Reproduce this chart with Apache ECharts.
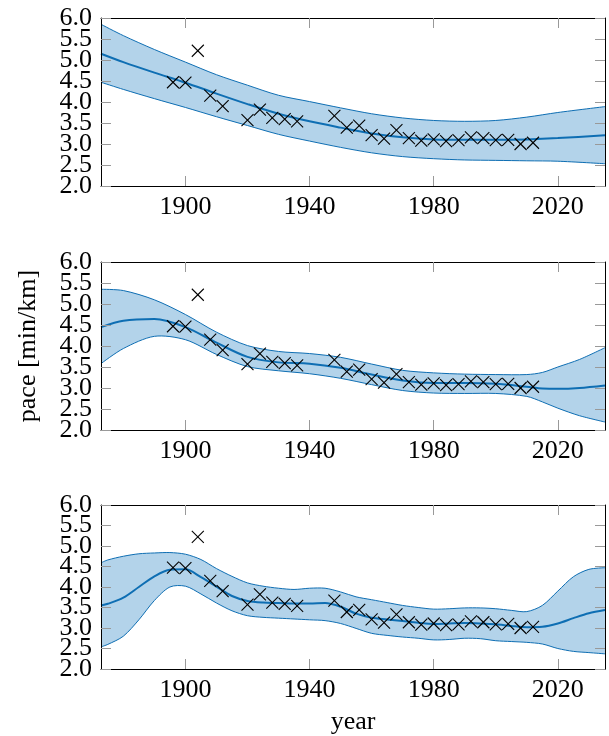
<!DOCTYPE html>
<html><head><meta charset="utf-8">
<script src="https://cdn.jsdelivr.net/npm/echarts@6/dist/echarts.min.js"></script>
<style>html,body{margin:0;padding:0;background:#fff}#c{width:609px;height:736px}</style>
</head><body><div id="c"></div>
<script>
// Observed data (Olympic marathon pace, min/km)
const years = [1896,1900,1904,1908,1912,1920,1924,1928,1932,1936,1948,1952,1956,1960,1964,1968,1972,1976,1980,1984,1988,1992,1996,2000,2004,2008,2012];
const pace  = [4.47,4.46,5.22,4.15,3.90,3.57,3.82,3.62,3.59,3.54,3.67,3.39,3.44,3.21,3.13,3.33,3.14,3.08,3.11,3.07,3.09,3.16,3.14,3.09,3.10,3.00,3.03];

// Panel 1 fit
const p1Years = [1872.8,1880,1890,1900,1910,1920,1930,1940,1950,1960,1970,1980,1990,2000,2010,2020,2035.2];
const p1Mean  = [5.15,4.95,4.70,4.46,4.20,3.95,3.72,3.54,3.39,3.25,3.16,3.11,3.10,3.10,3.11,3.14,3.21];
const p1Upper = [5.85,5.58,5.25,4.95,4.65,4.40,4.16,4.01,3.86,3.72,3.62,3.56,3.54,3.56,3.64,3.75,3.89];
const p1Lower = [4.47,4.30,4.08,3.87,3.65,3.44,3.23,3.07,2.92,2.79,2.70,2.65,2.62,2.61,2.60,2.59,2.53];

// Panel 2 fit
const p2Years = [1872.8,1880,1890,1900,1910,1920,1930,1940,1950,1960,1970,1980,1990,2000,2010,2015,2020,2027,2035.2];
const p2Mean  = [4.45,4.60,4.64,4.45,4.08,3.74,3.61,3.58,3.48,3.32,3.18,3.12,3.12,3.10,3.03,2.99,2.98,3.00,3.06];
const p2Upper = [5.35,5.32,5.10,4.75,4.33,4.01,3.87,3.82,3.73,3.57,3.42,3.36,3.33,3.32,3.32,3.37,3.50,3.68,3.96];
const p2Lower = [3.58,3.94,4.23,4.15,3.80,3.51,3.41,3.34,3.23,3.08,2.94,2.88,2.87,2.87,2.80,2.67,2.52,2.34,2.19];

// Panel 3 fit
const p3Years = [1872.8,1875,1880,1885,1890,1895,1900,1905,1910,1915,1920,1925,1930,1935,1940,1945,1950,1955,1960,1965,1970,1975,1980,1985,1990,1995,2000,2005,2010,2015,2020,2025,2030,2035.2];
const p3Mean  = [3.55,3.59,3.74,4.00,4.26,4.42,4.43,4.24,4.01,3.78,3.66,3.62,3.61,3.60,3.60,3.61,3.52,3.35,3.25,3.21,3.17,3.13,3.10,3.11,3.12,3.11,3.09,3.05,3.02,3.03,3.11,3.24,3.36,3.44];
const p3Upper = [4.59,4.66,4.75,4.81,4.83,4.84,4.80,4.67,4.45,4.26,4.10,4.02,3.97,3.94,3.97,3.97,3.88,3.76,3.69,3.62,3.55,3.50,3.46,3.47,3.49,3.49,3.47,3.43,3.40,3.55,3.90,4.25,4.43,4.47];
const p3Lower = [2.54,2.60,2.80,3.20,3.67,4.00,4.02,3.83,3.61,3.42,3.30,3.26,3.24,3.22,3.20,3.18,3.11,2.99,2.87,2.82,2.78,2.75,2.71,2.72,2.75,2.74,2.69,2.67,2.65,2.61,2.50,2.43,2.40,2.37];

const xTicks = [1900,1940,1980,2020];
const yLabelsWhole = [2,3,4,5,6];
const yLabelsHalf  = [2.5,3.5,4.5,5.5];
const xMin = 1872.8, xMax = 2035.2;

const FONT = 'Liberation Serif';
const FS = 26;
const LINE = '#0e6eb3';
const FILL = '#b3d3ea';
const SMOOTH = 0.3;
const panels = [
  {yrs:p1Years, mean:p1Mean, up:p1Upper, lo:p1Lower, top:18},
  {yrs:p2Years, mean:p2Mean, up:p2Upper, lo:p2Lower, top:262},
  {yrs:p3Years, mean:p3Mean, up:p3Upper, lo:p3Lower, top:505}
];

const grid = [], xAxis = [], yAxis = [], series = [];
panels.forEach((p, i) => {
  grid.push({left:101, width:504, top:p.top, height:168});
  const tick = {show:true, inside:true, length:10, lineStyle:{color:'#999', width:1}};
  const line = {show:true, onZero:false, lineStyle:{color:'#000', width:1}};
  const lbl = {fontFamily:FONT, fontSize:FS, color:'#000', margin:9, formatter:v=>Number(v).toFixed(1)};
  xAxis.push({
    type:'value', gridIndex:i, min:xMin, max:xMax, position:'bottom', z:5,
    axisLine:line, splitLine:{show:false},
    axisTick:Object.assign({customValues:xTicks}, tick),
    axisLabel:{customValues:xTicks, fontFamily:FONT, fontSize:FS, color:'#000', margin:8, formatter:v=>String(v)},
    name: i===2 ? 'year' : '', nameLocation:'middle', nameGap:40,
    nameTextStyle:{fontFamily:FONT, fontSize:FS, color:'#000'}
  });
  xAxis.push({
    type:'value', gridIndex:i, min:xMin, max:xMax, position:'top', z:5,
    axisLine:line, splitLine:{show:false},
    axisTick:Object.assign({customValues:xTicks}, tick),
    axisLabel:{show:false}
  });
  yAxis.push({
    type:'value', gridIndex:i, min:2, max:6, interval:0.5, position:'left', z:5,
    axisLine:line, splitLine:{show:false}, axisTick:tick,
    axisLabel:Object.assign({customValues:yLabelsWhole, showMinLabel:true, showMaxLabel:true}, lbl),
    name: i===1 ? 'pace [min/km]' : '', nameLocation:'middle', nameGap:60,
    nameTextStyle:{fontFamily:FONT, fontSize:FS, color:'#000'}
  });
  yAxis.push({
    type:'value', gridIndex:i, min:2, max:6, interval:0.5, position:'right', z:5,
    axisLine:line, splitLine:{show:false}, axisTick:tick, axisLabel:{show:false}
  });
  yAxis.push({
    type:'value', gridIndex:i, min:2, max:6, interval:0.5, position:'left', offset:0, z:5,
    axisLine:{show:false}, splitLine:{show:false}, axisTick:{show:false},
    axisLabel:Object.assign({customValues:yLabelsHalf}, lbl)
  });
  const xi = 2*i, yi = 3*i;
  // confidence band: fill + edges, drawn through the axis scales
  series.push({
    type:'custom', xAxisIndex:xi, yAxisIndex:yi, z:2, clip:true,
    data:[[p.yrs[0], p.mean[0]]],
    renderItem:(params, api) => {
      const up = p.yrs.map((y,k)=>api.coord([y, p.up[k]]));
      const lo = p.yrs.map((y,k)=>api.coord([y, p.lo[k]]));
      const poly = up.concat([up[up.length-1]], [lo[lo.length-1]], lo.slice().reverse(), [lo[0]], [up[0]]);
      return {type:'group', children:[
        {type:'polygon', shape:{points:poly, smooth:SMOOTH}, style:{fill:FILL, stroke:null}},
        {type:'polyline', shape:{points:up, smooth:SMOOTH}, style:{fill:null, stroke:LINE, lineWidth:1}},
        {type:'polyline', shape:{points:lo, smooth:SMOOTH}, style:{fill:null, stroke:LINE, lineWidth:1}}
      ]};
    }
  });
  series.push({
    type:'line', xAxisIndex:xi, yAxisIndex:yi, symbol:'none', smooth:SMOOTH,
    data:p.yrs.map((y,k)=>[y, p.mean[k]]), lineStyle:{color:LINE, width:2}, z:3
  });
  series.push({
    type:'custom', xAxisIndex:xi, yAxisIndex:yi, z:10,
    data:years.map((y,k)=>[y, pace[k]]),
    renderItem:(params, api) => {
      const c = api.coord([api.value(0), api.value(1)]);
      const s = 6;
      const st = {stroke:'#000', lineWidth:1.1, fill:null};
      return {type:'group', children:[
        {type:'line', shape:{x1:c[0]-s, y1:c[1]-s, x2:c[0]+s, y2:c[1]+s}, style:st},
        {type:'line', shape:{x1:c[0]-s, y1:c[1]+s, x2:c[0]+s, y2:c[1]-s}, style:st}
      ]};
    }
  });
});

const chart = echarts.init(document.getElementById('c'), null, {renderer:'canvas'});
chart.setOption({animation:false, backgroundColor:'#fff', grid, xAxis, yAxis, series});
</script>
</body></html>
